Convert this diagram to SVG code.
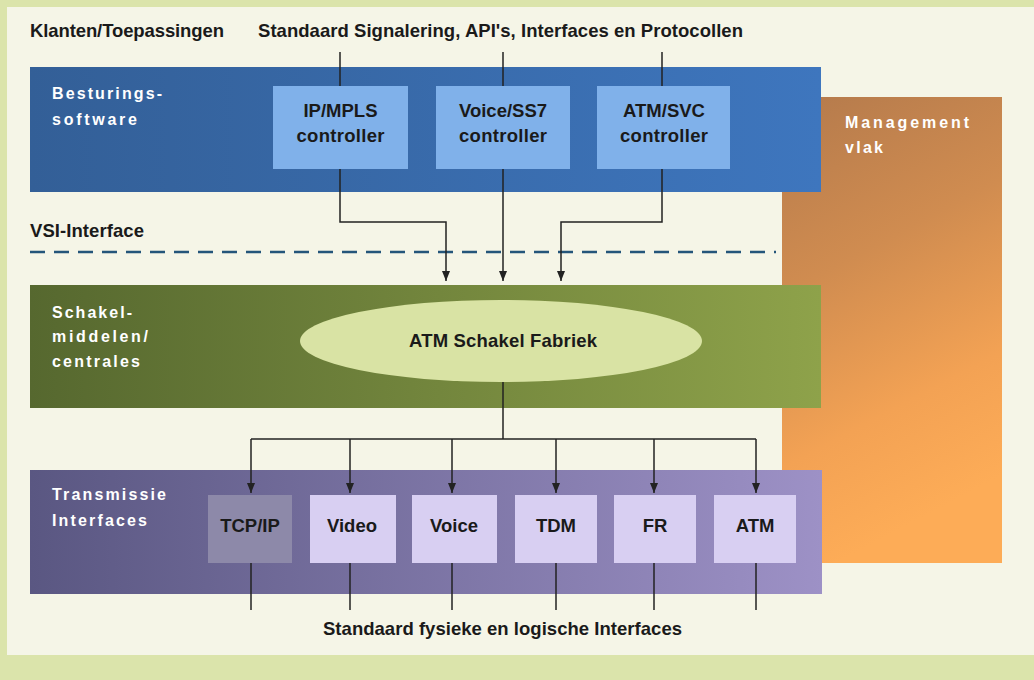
<svg xmlns="http://www.w3.org/2000/svg" width="1034" height="680" viewBox="0 0 1034 680">
  <style>
    .lbl { font-family: "Liberation Sans", Arial, sans-serif; font-weight: bold; font-size: 18.5px; fill: #1a1a1a; }
    .wlbl { font-family: "Liberation Sans", Arial, sans-serif; font-weight: bold; font-size: 16px; fill: #ffffff; }
    .ctr { text-anchor: middle; }
    .conn { fill: none; stroke: #222222; stroke-width: 1.5; }
    .arr { marker-end: url(#ah); }
  </style>
  <defs>
    <linearGradient id="gBlue" x1="0" y1="0" x2="1" y2="0">
      <stop offset="0" stop-color="#335f97"/>
      <stop offset="1" stop-color="#3e76be"/>
    </linearGradient>
    <linearGradient id="gGreen" x1="0" y1="0" x2="1" y2="0">
      <stop offset="0" stop-color="#56682f"/>
      <stop offset="1" stop-color="#8ea24a"/>
    </linearGradient>
    <linearGradient id="gPurple" x1="0" y1="0" x2="1" y2="0">
      <stop offset="0" stop-color="#5a5782"/>
      <stop offset="1" stop-color="#9d91c6"/>
    </linearGradient>
    <linearGradient id="gOrange" x1="0" y1="0" x2="0.25" y2="1">
      <stop offset="0" stop-color="#b47a4c"/>
      <stop offset="0.4" stop-color="#d08c50"/>
      <stop offset="0.75" stop-color="#f3a254"/>
      <stop offset="1" stop-color="#fdac57"/>
    </linearGradient>
    <marker id="ah" viewBox="0 0 10 10" refX="10" refY="5" markerWidth="10" markerHeight="10" markerUnits="userSpaceOnUse" orient="auto">
      <path d="M0,1 L10,5 L0,9 Z" fill="#222222"/>
    </marker>
  </defs>

  <!-- background -->
  <rect x="0" y="0" width="1034" height="680" fill="#dbe4ab"/>
  <rect x="7" y="7" width="1027" height="648" fill="#f5f5e7"/>

  <!-- management plane -->
  <g id="management">
    <rect x="782" y="97" width="220" height="466" fill="url(#gOrange)"/>
    <text class="wlbl" x="845" y="128" textLength="124" lengthAdjust="spacing">Management</text>
    <text class="wlbl" x="845" y="153" textLength="38" lengthAdjust="spacing">vlak</text>
  </g>

  <!-- control layer -->
  <g id="besturing">
    <rect x="30" y="67" width="791" height="125" fill="url(#gBlue)"/>
    <text class="wlbl" x="52" y="99" textLength="110" lengthAdjust="spacing">Besturings-</text>
    <text class="wlbl" x="52" y="125" textLength="85" lengthAdjust="spacing">software</text>
  </g>
  <g id="ipmpls">
    <rect x="273" y="86" width="135" height="83" fill="#80b1ea"/>
    <text class="lbl ctr" x="340.5" y="117">IP/MPLS</text>
    <text class="lbl ctr" x="340.5" y="142" textLength="88" lengthAdjust="spacing">controller</text>
  </g>
  <g id="voicess7">
    <rect x="436" y="86" width="134" height="83" fill="#80b1ea"/>
    <text class="lbl ctr" x="503" y="117">Voice/SS7</text>
    <text class="lbl ctr" x="503" y="142" textLength="88" lengthAdjust="spacing">controller</text>
  </g>
  <g id="atmsvc">
    <rect x="597" y="86" width="133" height="83" fill="#80b1ea"/>
    <text class="lbl ctr" x="664" y="117">ATM/SVC</text>
    <text class="lbl ctr" x="664" y="142" textLength="88" lengthAdjust="spacing">controller</text>
  </g>

  <!-- switching layer -->
  <g id="schakel">
    <rect x="30" y="285" width="791" height="123" fill="url(#gGreen)"/>
    <text class="wlbl" x="52" y="318" textLength="80" lengthAdjust="spacing">Schakel-</text>
    <text class="wlbl" x="52" y="342" textLength="96" lengthAdjust="spacing">middelen/</text>
    <text class="wlbl" x="52" y="367" textLength="88" lengthAdjust="spacing">centrales</text>
  </g>
  <g id="fabriek">
    <ellipse cx="501" cy="341" rx="201" ry="41" fill="#d9e3a4"/>
    <text class="lbl ctr" x="503" y="347" textLength="188" lengthAdjust="spacing">ATM Schakel Fabriek</text>
  </g>

  <!-- transmission layer -->
  <g id="transmissie">
    <rect x="30" y="470" width="792" height="124" fill="url(#gPurple)"/>
    <text class="wlbl" x="52" y="500" textLength="114" lengthAdjust="spacing">Transmissie</text>
    <text class="wlbl" x="52" y="526" textLength="95" lengthAdjust="spacing">Interfaces</text>
  </g>
  <g id="tcpip">
    <rect x="208" y="495" width="84" height="68" fill="#8d89a9"/>
    <text class="lbl ctr" x="250" y="532">TCP/IP</text>
  </g>
  <g id="video">
    <rect x="310" y="495" width="86" height="68" fill="#d8cff2"/>
    <text class="lbl ctr" x="352" y="532">Video</text>
  </g>
  <g id="voice">
    <rect x="412" y="495" width="85" height="68" fill="#d8cff2"/>
    <text class="lbl ctr" x="454" y="532">Voice</text>
  </g>
  <g id="tdm">
    <rect x="515" y="495" width="82" height="68" fill="#d8cff2"/>
    <text class="lbl ctr" x="556" y="532">TDM</text>
  </g>
  <g id="fr">
    <rect x="614" y="495" width="82" height="68" fill="#d8cff2"/>
    <text class="lbl ctr" x="655" y="532">FR</text>
  </g>
  <g id="atm">
    <rect x="714" y="495" width="82" height="68" fill="#d8cff2"/>
    <text class="lbl ctr" x="755" y="532">ATM</text>
  </g>

  <!-- free labels -->
  <g id="labels">
    <text class="lbl" x="30" y="37" textLength="194" lengthAdjust="spacing">Klanten/Toepassingen</text>
    <text class="lbl" x="258" y="37" textLength="485" lengthAdjust="spacing">Standaard Signalering, API's, Interfaces en Protocollen</text>
    <text class="lbl" x="30" y="237" textLength="114" lengthAdjust="spacing">VSI-Interface</text>
    <text class="lbl" x="323" y="635" textLength="359" lengthAdjust="spacing">Standaard fysieke en logische Interfaces</text>
  </g>

  <!-- connectors -->
  <g id="connectors">
    <line x1="30" y1="252" x2="776" y2="252" stroke="#24557a" stroke-width="2.5" stroke-dasharray="15 9"/>
    <line class="conn" x1="340" y1="52" x2="340" y2="86"/>
    <line class="conn" x1="503" y1="52" x2="503" y2="86"/>
    <line class="conn" x1="662" y1="52" x2="662" y2="86"/>
    <polyline class="conn arr" points="340,169 340,222 446,222 446,281"/>
    <line class="conn arr" x1="503" y1="169" x2="503" y2="281"/>
    <polyline class="conn arr" points="662,169 662,222 561,222 561,281"/>
    <line class="conn" x1="503" y1="382" x2="503" y2="439"/>
    <line class="conn" x1="251" y1="439" x2="756" y2="439"/>
    <line class="conn arr" x1="251" y1="439" x2="251" y2="493"/>
    <line class="conn arr" x1="350" y1="439" x2="350" y2="493"/>
    <line class="conn arr" x1="452" y1="439" x2="452" y2="493"/>
    <line class="conn arr" x1="556" y1="439" x2="556" y2="493"/>
    <line class="conn arr" x1="654" y1="439" x2="654" y2="493"/>
    <line class="conn arr" x1="756" y1="439" x2="756" y2="493"/>
    <line class="conn" x1="251" y1="563" x2="251" y2="610"/>
    <line class="conn" x1="350" y1="563" x2="350" y2="610"/>
    <line class="conn" x1="452" y1="563" x2="452" y2="610"/>
    <line class="conn" x1="556" y1="563" x2="556" y2="610"/>
    <line class="conn" x1="654" y1="563" x2="654" y2="610"/>
    <line class="conn" x1="756" y1="563" x2="756" y2="610"/>
  </g>
</svg>
